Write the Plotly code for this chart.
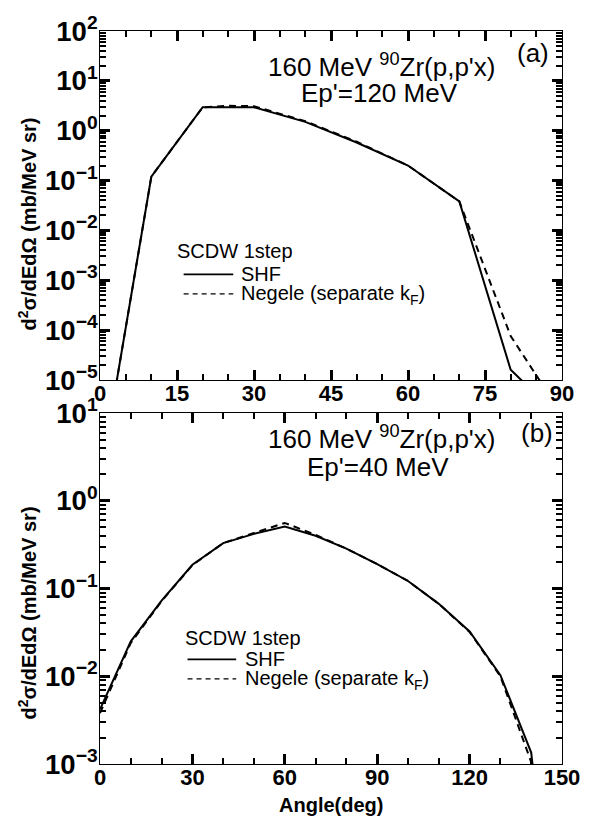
import plotly.graph_objects as go

# ---------------- data ----------------
angle_a = [0, 10, 20, 25, 30, 40, 50, 60, 70, 80, 90]
shf_a = [1e-7, 0.12, 2.95, 2.95, 2.95, 1.5, 0.58, 0.20, 0.038, 1.6e-5, 1.6e-6]
negele_a = [1e-7, 0.12, 2.95, 3.15, 3.1, 1.55, 0.60, 0.20, 0.038, 7.6e-5, 2e-6]

angle_b = [0, 10, 20, 30, 40, 50, 60, 70, 80, 90, 100, 110, 120, 130, 140, 150]
shf_b = [4.2e-3, 0.025, 0.073, 0.187, 0.33, 0.42, 0.51, 0.40, 0.285, 0.19,
         0.122, 0.067, 0.0325, 0.0103, 1.35e-3, 1e-6]
negele_b = [3.8e-3, 0.024, 0.072, 0.185, 0.33, 0.43, 0.56, 0.41, 0.285, 0.19,
            0.122, 0.067, 0.032, 0.0100, 1.05e-3, 1e-6]

xrange_a = [0, 90]
xrange_b = [0, 150]
xstep_a, xminor_a = 15, 5
xstep_b, xminor_b = 30, 10
yrange_a = [-5, 2]   # decades
yrange_b = [-3, 1]
# labels of 1, 10, 100 written as powers of ten like the rest
power_alias = {"1": "10<sup>0</sup>", "10": "10<sup>1</sup>", "100": "10<sup>2</sup>"}

legend_title = "SCDW 1step"
name_shf = "SHF"
name_neg = "Negele (separate k<sub>F</sub>)"

# ---------------- geometry helpers ----------------
W, H = 592, 817
ML, MR, MT, MB = 100, 17, 14, 53
PW, PH = W - ML - MR, H - MT - MB


def px(xp):
    return (xp - ML) / PW


def py(yp):
    return (H - MB - yp) / PH


FONT = "Liberation Sans, Arial, sans-serif"

fig = go.Figure()

fig.add_trace(go.Scatter(x=angle_a, y=shf_a, mode="lines", name=name_shf,
                         line=dict(color="black", width=2), xaxis="x", yaxis="y"))
fig.add_trace(go.Scatter(x=angle_a, y=negele_a, mode="lines", name=name_neg,
                         line=dict(color="black", width=2, dash="7px,5px"),
                         xaxis="x", yaxis="y"))
fig.add_trace(go.Scatter(x=angle_b, y=shf_b, mode="lines", name=name_shf,
                         line=dict(color="black", width=2), xaxis="x2", yaxis="y2"))
fig.add_trace(go.Scatter(x=angle_b, y=negele_b, mode="lines", name=name_neg,
                         line=dict(color="black", width=2, dash="7px,5px"),
                         xaxis="x2", yaxis="y2"))

tickfont = dict(family=FONT, size=22, color="#000000", weight="bold")
axis_common = dict(showgrid=False, showline=True, linecolor="#000000",
                   mirror="allticks", ticks="inside", ticklen=10,
                   tickwidth=2.5, tickcolor="#000000", tickfont=tickfont)
xminor = dict(ticks="inside", ticklen=6, tickwidth=2, tickcolor="#000000", showgrid=False)
yminor = dict(ticks="inside", ticklen=6, tickwidth=2, tickcolor="#000000", showgrid=False,
              dtick="D1")

ya_dom = [py(371), 1.0]
yb_dom = [0.0, py(405)]

fig.update_layout(
    width=W, height=H,
    margin=dict(l=ML, r=MR, t=MT, b=MB),
    paper_bgcolor="white", plot_bgcolor="white",
    showlegend=False,
    xaxis=dict(anchor="y", range=xrange_a, dtick=xstep_a, ticklabelstandoff=-6,
               minor=dict(dtick=xminor_a, **xminor), **axis_common),
    yaxis=dict(anchor="x", domain=ya_dom, type="log", range=yrange_a,
               dtick=1, exponentformat="power", labelalias=power_alias,
               ticklabelstandoff=-3, minor=yminor, **axis_common),
    xaxis2=dict(anchor="y2", range=xrange_b, dtick=xstep_b, ticklabelstandoff=-6,
                minor=dict(dtick=xminor_b, **xminor), **axis_common),
    yaxis2=dict(anchor="x2", domain=yb_dom, type="log", range=yrange_b,
                dtick=1, exponentformat="power", labelalias=power_alias,
                ticklabelstandoff=-3, minor=yminor, **axis_common),
)

ann_font = dict(family=FONT, size=26, color="black")
annotations = [
    dict(text="160 MeV <sup>90</sup>Zr(p,p'x)", x=px(390), y=py(49)),
    dict(text="Ep'=120 MeV", x=px(387), y=py(77)),
    dict(text="(a)", x=px(545), y=py(37)),
    dict(text="160 MeV <sup>90</sup>Zr(p,p'x)", x=px(390), y=py(430)),
    dict(text="Ep'=40 MeV", x=px(386), y=py(460)),
    dict(text="(b)", x=px(549), y=py(425)),
]
for a in annotations:
    fig.add_annotation(xref="paper", yref="paper", showarrow=False,
                       xanchor="center", yanchor="middle", font=ann_font, **a)

# ---------------- hand-placed legends (one per panel) ----------------
leg_font = dict(family=FONT, size=20, color="black")
legends = [
    # (title_x, title_y, line_x0, line_x1, text_x, y_shf, y_neg)
    (177, 239, 186, 237, 243, 263, 283),
    (185, 635, 190, 240, 247, 657, 677),
]
for tx, ty, lx0, lx1, txt_x, ys, yn in legends:
    fig.add_annotation(xref="paper", yref="paper", x=px(tx), y=py(ty), text=legend_title,
                       showarrow=False, xanchor="left", yanchor="middle", font=leg_font,
                       height=22)
    fig.add_annotation(xref="paper", yref="paper", x=px(txt_x), y=py(ys), text=name_shf,
                       showarrow=False, xanchor="left", yanchor="middle", font=leg_font,
                       height=20)
    fig.add_annotation(xref="paper", yref="paper", x=px(txt_x), y=py(yn + 1), text=name_neg,
                       showarrow=False, xanchor="left", yanchor="middle", font=leg_font,
                       height=20)
    fig.add_shape(type="line", xref="paper", yref="paper", x0=px(lx0), x1=px(lx1),
                  y0=py(ys), y1=py(ys), line=dict(color="black", width=1.8))
    fig.add_shape(type="line", xref="paper", yref="paper", x0=px(lx0), x1=px(lx1),
                  y0=py(yn), y1=py(yn), line=dict(color="black", width=1.3, dash="5px,4px"))

title_font = dict(family=FONT, size=20, color="black", weight="bold")
ytitle = "d<sup>2</sup>σ/dEdΩ (mb/MeV sr)"
fig.add_annotation(xref="paper", yref="paper", x=px(25), y=py(212), text=ytitle,
                   textangle=-90, showarrow=False, xanchor="center", yanchor="middle",
                   font=title_font)
fig.add_annotation(xref="paper", yref="paper", x=px(25), y=py(610), text=ytitle,
                   textangle=-90, showarrow=False, xanchor="center", yanchor="middle",
                   font=title_font)
fig.add_annotation(xref="paper", yref="paper", x=0.5, y=py(806), text="Angle(deg)",
                   showarrow=False, xanchor="center", yanchor="middle", font=title_font,
                   height=22)

fig.write_html("out.html")
